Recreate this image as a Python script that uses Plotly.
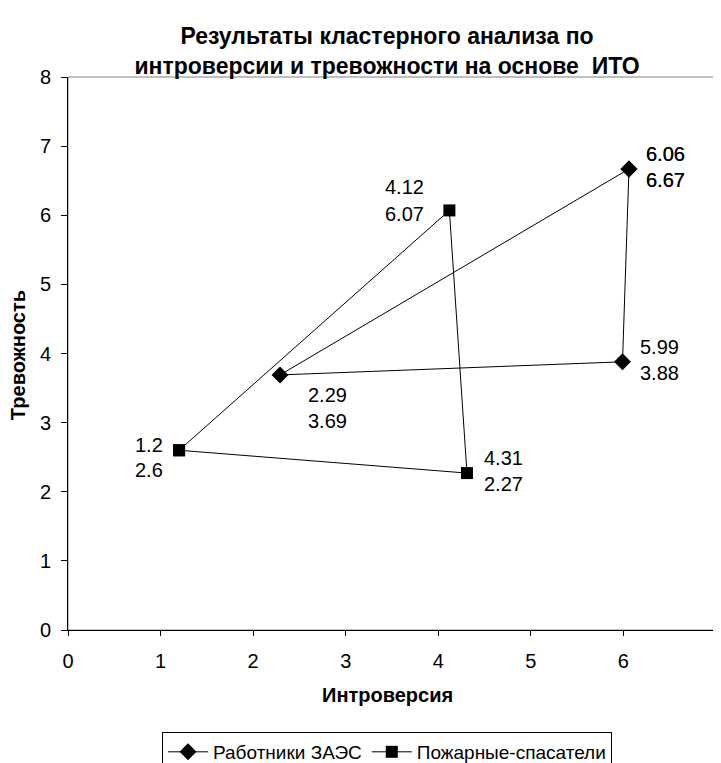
import plotly.graph_objects as go

# ---- data ----
zaes_name = "Работники ЗАЭС"
zaes_x = [6.06, 5.99, 2.29, 6.06]
zaes_y = [6.67, 3.88, 3.69, 6.67]

fire_name = "Пожарные-спасатели"
fire_x = [1.2, 4.12, 4.31, 1.2]
fire_y = [2.6, 6.07, 2.27, 2.6]

title_text = "Результаты кластерного анализа по<br>интроверсии и тревожности на основе  ИТО"
x_title = "Интроверсия"
y_title = "Тревожность"

FONT = "Arial, Liberation Sans, sans-serif"

# label placement (style only); None = no label drawn for that point
zaes_place = ["right", "right", "below", "right"]
fire_place = ["left", "left_up", "right", None]

fig = go.Figure()
fig.add_trace(go.Scatter(x=zaes_x, y=zaes_y, mode="lines+markers", name=zaes_name,
                         line=dict(color="black", width=1),
                         marker=dict(symbol="diamond", size=13, color="black")))
fig.add_trace(go.Scatter(x=fire_x, y=fire_y, mode="lines+markers", name=fire_name,
                         line=dict(color="black", width=1),
                         marker=dict(symbol="square", size=12, color="black")))

offsets = {
    "right": dict(xanchor="left", xshift=15, dy=(15, -11)),
    "left": dict(xanchor="right", xshift=-14, dy=(5, -20)),
    "left_up": dict(xanchor="right", xshift=-23, dy=(23, -4)),
    "below": dict(xanchor="left", xshift=26, dy=(-20, -46)),
}

annots = []
for xs, ys, places in [(zaes_x, zaes_y, zaes_place), (fire_x, fire_y, fire_place)]:
    for xv, yv, p in zip(xs, ys, places):
        if p is None:
            continue
        o = offsets[p]
        for val, d in zip((xv, yv), o["dy"]):
            annots.append(dict(x=xv, y=yv, xref="x", yref="y", text=f"{val:g}",
                               showarrow=False, xanchor=o["xanchor"], yanchor="middle",
                               xshift=o["xshift"], yshift=d,
                               font=dict(family=FONT, size=20, color="black")))

# axis titles
annots.append(dict(text="<b>" + x_title + "</b>", xref="paper", yref="paper",
                   x=0.4923, y=-0.1175, xanchor="center", yanchor="middle", showarrow=False,
                   font=dict(family=FONT, size=20, color="black")))
annots.append(dict(text="<b>" + y_title + "</b>", xref="paper", yref="paper",
                   x=-0.0772, y=0.497, xanchor="center", yanchor="middle", showarrow=False,
                   textangle=-90, font=dict(family=FONT, size=20, color="black")))

W, H = 713, 755
fig.update_layout(
    width=W, height=H,
    margin=dict(l=60, r=5, t=69, b=133, autoexpand=False),
    paper_bgcolor="white", plot_bgcolor="white",
    font=dict(family=FONT, size=20, color="black"),
    title=dict(text="<b>" + title_text + "</b>", x=0.4923, xref="paper", xanchor="center",
               y=1 - 36 / H, yref="container", yanchor="middle",
               font=dict(family=FONT, size=23, color="black")),
    showlegend=True,
    legend=dict(orientation="h", x=0.4923, xanchor="center", y=-0.1844, yanchor="top",
                bordercolor="black", borderwidth=1, bgcolor="white",
                font=dict(family=FONT, size=19, color="black"),
                itemwidth=40, tracegroupgap=0),
    annotations=annots,
    shapes=[dict(type="rect", xref="paper", yref="paper", x0=0, y0=0, x1=1, y1=1,
                 line=dict(color="#808080", width=1), layer="below")],
)
fig.update_xaxes(range=[0, 7], dtick=1, tick0=0, showgrid=False, zeroline=False,
                 showline=True, linecolor="black", linewidth=1, automargin=False,
                 ticks="outside", ticklen=5, tickcolor="black", ticklabelstandoff=8,
                 tickfont=dict(family=FONT, size=20))
fig.update_yaxes(range=[0, 8], dtick=1, tick0=0, showgrid=False, zeroline=False,
                 showline=True, linecolor="black", linewidth=1, automargin=False,
                 ticks="outside", ticklen=6, tickcolor="black", ticklabelstandoff=6,
                 tickfont=dict(family=FONT, size=20))

fig.write_html("out.html")
